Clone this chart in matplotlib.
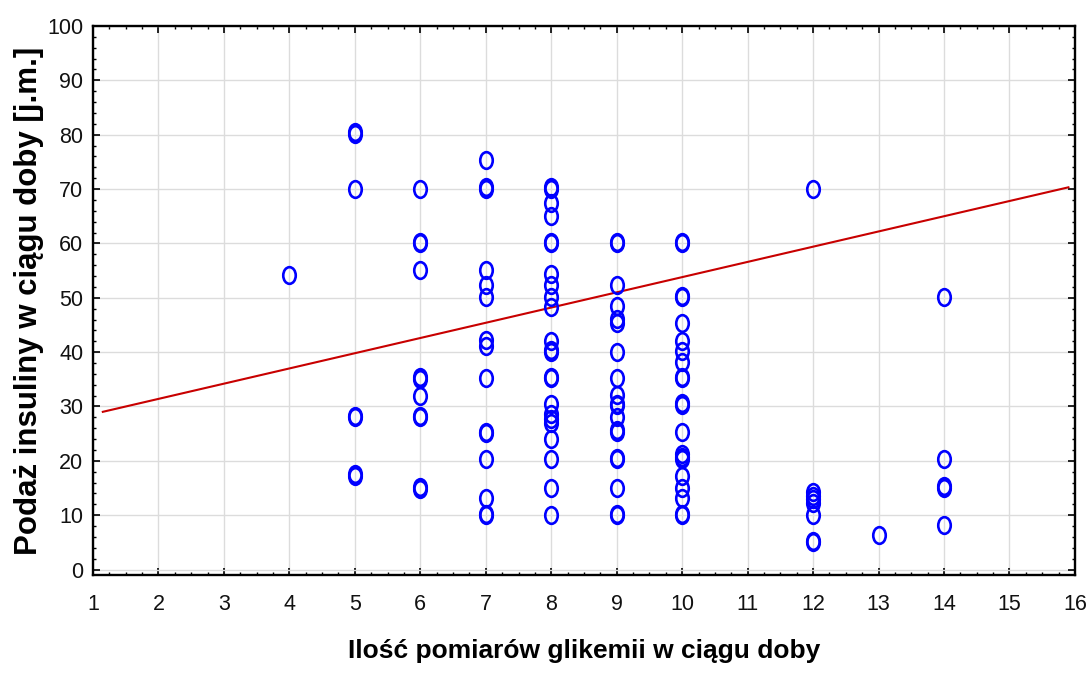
import numpy as np
import matplotlib
matplotlib.use('Agg')
import matplotlib.pyplot as plt
from matplotlib.path import Path
from matplotlib.ticker import MultipleLocator

# measurements per day (x) and the insulin doses recorded for each count
counts = [4, 5, 6, 7, 8, 9, 10, 12, 13, 14]
insulin = [
    [54.2],
    [80.2, 80.5, 70, 28, 28.3, 17.2, 17.5],
    [70, 60, 60.3, 55.1, 35, 35.4, 32, 28, 28.3, 14.8, 15.1],
    [75.3, 70, 70.3, 55.1, 52.3, 50.2, 42.2, 41.2, 35.2, 25.1, 25.4, 20.3, 13.1, 10, 10.3],
    [70, 70.3, 67.4, 65, 60, 60.3, 54.3, 52.4, 50.2, 48.3, 42.1, 40.1, 40.4, 35.2, 35.5,
     30.4, 28.6, 27.7, 27.0, 24, 20.3, 15, 10],
    [60, 60.3, 52.4, 48.5, 46.1, 45.4, 40.1, 35.2, 32.2, 30.2, 30.5, 28, 25.3, 25.6,
     20.3, 20.6, 15, 10, 10.3],
    [60, 60.3, 50.1, 50.4, 45.3, 42.1, 40.3, 38.1, 35.2, 35.5, 30.3, 30.6, 25.3, 21.3,
     20.4, 20.7, 17.3, 15, 13.1, 10, 10.3],
    [70, 14.3, 13.6, 12.9, 12.2, 10, 5, 5.3],
    [6.3],
    [50.1, 20.3, 15, 15.3, 8.2],
]

# linear fit: y = a + b*x
fit_a = 25.8
fit_b = 2.8
fit_range = [1.15, 15.9]

xs = np.concatenate([[c] * len(v) for c, v in zip(counts, insulin)])
ys = np.concatenate(insulin)

# slightly tall open ellipse as marker
circ = Path.unit_circle()
ellipse = Path(circ.vertices * np.array([0.75, 1.0]), circ.codes)

fig = plt.figure(figsize=(10.89, 6.73), dpi=100)
ax = fig.add_axes([0.0854, 0.1456, 0.9017, 0.8158])

ax.grid(True, which='major', color='#dcdcdc', linewidth=1)
ax.set_axisbelow(True)

fx = np.array(fit_range)
ax.plot(fx, fit_a + fit_b * fx, color='#c80000', linewidth=1.5, zorder=2)
ax.plot(xs, ys, linestyle='none', marker=ellipse, markersize=12,
        markerfacecolor='none', markeredgecolor='#0000ff', markeredgewidth=1.9, zorder=3)

ax.set_xlim(1, 16)
ax.set_ylim(-1, 100)
ax.xaxis.set_major_locator(MultipleLocator(1))
ax.xaxis.set_minor_locator(MultipleLocator(0.25))
ax.yaxis.set_major_locator(MultipleLocator(10))
ax.yaxis.set_minor_locator(MultipleLocator(2))

tick_font = ['Liberation Sans', 'DejaVu Sans']
ax.tick_params(which='both', direction='in', top=True, right=True, color='black')
ax.tick_params(which='major', length=5, width=1.2, labelsize=15.5)
ax.tick_params(which='minor', length=2.5, width=1)
ax.tick_params(axis='x', pad=14)
ax.tick_params(axis='y', pad=7)
for lab in ax.get_xticklabels() + ax.get_yticklabels():
    lab.set_fontfamily(tick_font)
    lab.set_color('#111111')

for sp in ax.spines.values():
    sp.set_linewidth(1.7)

ax.set_xlabel('Ilość pomiarów glikemii w ciągu doby', fontsize=19, fontweight='bold',
              family=tick_font, labelpad=17)
ax.set_ylabel('Podaż insuliny w ciągu doby [j.m.]', fontsize=22.5, fontweight='bold',
              family=tick_font, labelpad=2)

fig.savefig('out.png', dpi=100)
